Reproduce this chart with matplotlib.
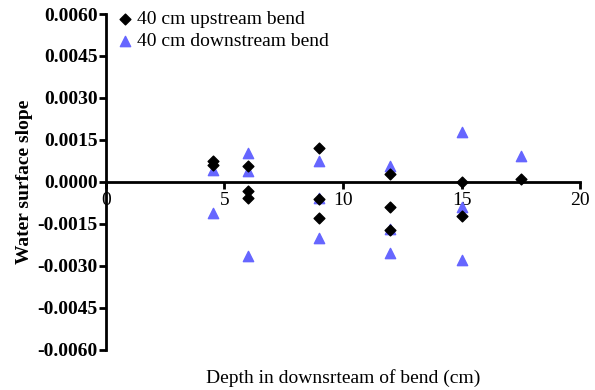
import numpy as np
import matplotlib
matplotlib.use('Agg')
import matplotlib.pyplot as plt

plt.rcParams['font.family'] = 'Liberation Serif'

# upstream bend (black diamonds)
up_x = [4.5, 4.5, 6, 6, 6, 9, 9, 9, 12, 12, 12, 15, 15, 17.5]
up_y = [0.00075, 0.0006, 0.00057, -0.00032, -0.00057, 0.0012, -0.0006, -0.0013,
        0.0003, -0.0009, -0.0017, 0.0, -0.0012, 0.0001]

# downstream bend (blue triangles)
down_x = [4.5, 4.5, 6, 6, 6, 9, 9, 9, 12, 12, 12, 15, 15, 15, 17.5]
down_y = [0.00043, -0.0011, 0.00104, 0.0004, -0.00264, 0.00075, -0.00057, -0.002,
          0.00057, -0.00168, -0.00254, 0.00179, -0.0009, -0.0028, 0.00093]

yticks = [0.006, 0.0045, 0.003, 0.0015, 0.0, -0.0015, -0.003, -0.0045, -0.006]
xticks = [0, 5, 10, 15, 20]

fig = plt.figure(figsize=(5.95, 3.9), dpi=100)
ax = fig.add_axes([0.178, 0.1026, 0.797, 0.8615])

ax.scatter(up_x, up_y, marker='D', s=30, color='black', zorder=4,
           label='40 cm upstream bend')
ax.scatter(down_x, down_y, marker='^', s=55, color='#6666ff', zorder=3,
           label='40 cm downstream bend')

ax.set_xlim(0, 20)
ax.set_ylim(-0.006, 0.006)
ax.spines['top'].set_visible(False)
ax.spines['right'].set_visible(False)
ax.spines['bottom'].set_position(('data', 0))
ax.spines['left'].set_linewidth(2)
ax.spines['bottom'].set_linewidth(2)
ax.spines['left'].set_zorder(2)
ax.spines['bottom'].set_zorder(2)

ax.set_yticks(yticks)
ax.set_yticklabels(['%.4f' % v if v != 0 else '0.0000' for v in yticks],
                   fontweight='bold')
ax.set_xticks(xticks)
ax.set_xticklabels([str(v) for v in xticks])
ax.tick_params(axis='both', width=2, length=5, labelsize=14, direction='out')
ax.tick_params(axis='y', pad=1)
ax.tick_params(axis='x', pad=2)

ax.set_ylabel('Water surface slope', fontsize=14, fontweight='bold', labelpad=3)
fig.text(0.577, 0.03, 'Depth in downsrteam of bend (cm)', fontsize=14,
         ha='center', va='center')

ax.legend(loc='upper left', bbox_to_anchor=(-0.005, 1.045), frameon=False,
          fontsize=14, handletextpad=0.1, borderaxespad=0.2, labelspacing=0.2,
          handlelength=1.0)

fig.savefig('out.png', dpi=100)
